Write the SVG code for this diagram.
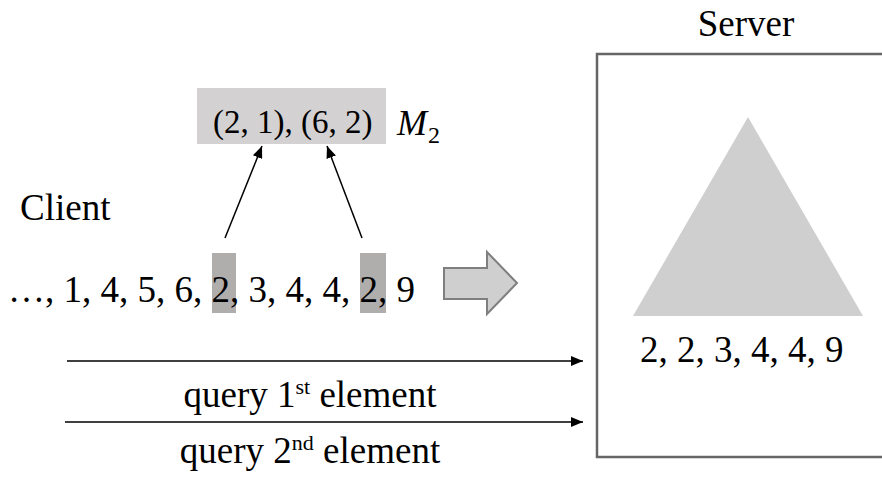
<svg xmlns="http://www.w3.org/2000/svg" width="882" height="478" viewBox="0 0 882 478" font-family="'Liberation Serif', 'Times New Roman', 'DejaVu Serif', serif">
<style>
.t{font-size:37px}
.c{stroke:#000;stroke-width:1.5;fill:none}
</style>
<defs>
<marker id="ah" viewBox="0 0 12 10" refX="12" refY="5" markerWidth="12" markerHeight="10" markerUnits="userSpaceOnUse" orient="auto">
<path d="M0,0 L12,5 L0,10 Z" fill="#000"/>
</marker>
</defs>
<rect width="882" height="478" fill="#fff"/>
<g id="server">
<rect x="597" y="54" width="300" height="403" fill="#fff" stroke="#666" stroke-width="2.5"/>
<polygon points="748,117 633,316 863,316" fill="#d0cfd0"/>
<text class="t" x="640" y="362">2, 2, 3, 4, 4, 9</text>
<text class="t" x="746" y="36" text-anchor="middle">Server</text>
</g>
<g id="client">
<text class="t" x="20" y="220">Client</text>
<rect x="212" y="253" width="24" height="60" fill="#b0adad"/>
<rect x="360" y="253" width="26" height="60" fill="#b0adad"/>
<text class="t" x="8" y="302">…, 1, 4, 5, 6, 2, 3, 4, 4, 2, 9</text>
</g>
<g id="m2">
<rect x="197" y="88" width="189" height="56" fill="#d3d1d1"/>
<text x="213" y="133" font-size="33">(2, 1), (6, 2)</text>
<text x="397" y="135" font-size="36" font-style="italic">M</text>
<text x="428" y="143" font-size="24">2</text>
</g>
<g id="blockarrow">
<polygon points="444,268 487,268 487,252 517,283 487,314 487,299 444,299" fill="#d0cfd0" stroke="#7f7f7f" stroke-width="2"/>
</g>
<g id="connectors">
<line class="c" x1="225" y1="238" x2="262" y2="146" marker-end="url(#ah)"/>
<line class="c" x1="362" y1="238" x2="327" y2="146" marker-end="url(#ah)"/>
<line class="c" x1="67" y1="361" x2="583" y2="361" marker-end="url(#ah)"/>
<line class="c" x1="65" y1="422" x2="583" y2="422" marker-end="url(#ah)"/>
</g>
<g id="labels">
<text class="t" x="310" y="407" text-anchor="middle">query 1<tspan font-size="22" dy="-13">st</tspan><tspan dy="13"> element</tspan></text>
<text class="t" x="310" y="463" text-anchor="middle">query 2<tspan font-size="22" dy="-13">nd</tspan><tspan dy="13"> element</tspan></text>
</g>
</svg>
